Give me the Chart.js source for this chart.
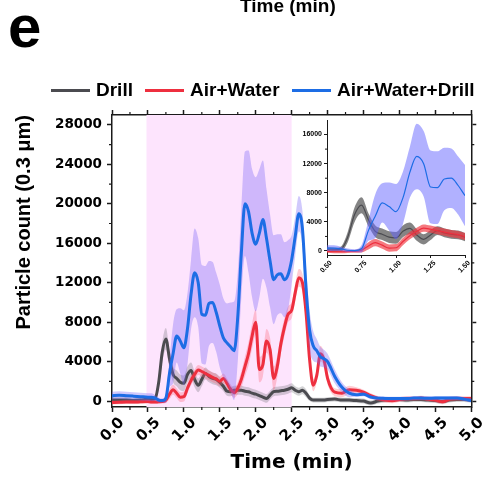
<!DOCTYPE html>
<html>
<head>
<meta charset="utf-8">
<title>Particle count</title>
<script src="https://cdn.jsdelivr.net/npm/chart.js@4.4.1/dist/chart.umd.min.js"></script>
<style>
  html, body { margin: 0; padding: 0; background: #fff; }
  #wrap { position: relative; width: 486px; height: 480px; overflow: hidden;
          font-family: "Liberation Sans", Arial, sans-serif; font-weight: bold; color: #000; }
  #main { position: absolute; left: 0; top: 0; }
  #inset { position: absolute; left: 280px; top: 112px; }
  .panel { position: absolute; left: 8px; top: -3px; font-size: 60px; line-height: 60px; }
  .cut { position: absolute; left: 240px; top: -4px; font-size: 19px; line-height: 19px; }
  .key { position: absolute; top: 80px; height: 20px; display: flex; align-items: center;
         font-size: 19px; line-height: 20px; white-space: nowrap; }
  .key i { display: inline-block; width: 39px; height: 3px; margin-right: 6px; }
</style>
</head>
<body>
<div id="wrap">
  <canvas id="main" width="486" height="480"></canvas>
  <canvas id="inset" width="192" height="178"></canvas>
  <div class="cut">Time (min)</div>
  <div class="panel">e</div>
  <div class="key" style="left:51px"><i style="background:#4b4b50"></i>Drill</div>
  <div class="key" style="left:145px"><i style="background:#ee2f3f"></i>Air+Water</div>
  <div class="key" style="left:292px"><i style="background:#1d6de5"></i>Air+Water+Drill</div>
</div>
<script>
// sampling times (min)
const times = [
  0, 0.1, 0.2, 0.3, 0.4, 0.5,
  0.55, 0.6, 0.65, 0.7, 0.75, 0.8, 0.85, 0.9, 0.95, 1.0,
  1.05, 1.1, 1.15, 1.2, 1.25, 1.3, 1.35, 1.4, 1.45, 1.5,
  1.55, 1.6, 1.65, 1.7, 1.75, 1.8, 1.85, 1.9, 1.95, 2.0,
  2.05, 2.1, 2.15, 2.2, 2.25, 2.3, 2.35, 2.4, 2.45, 2.5,
  2.55, 2.6, 2.65, 2.7, 2.75, 2.8, 2.85, 2.9, 2.95, 3.0,
  3.1, 3.2, 3.3, 3.4, 3.5, 3.6, 3.7, 3.8, 3.9, 4.0,
  4.1, 4.2, 4.3, 4.4, 4.5, 4.6, 4.7, 4.8, 4.9, 5.0
];

// mean particle counts and their spread
const drill = [
  100, 100, 100, 50, 100, 200,
  150, 250, 1900, 5000, 6300, 4300, 2700, 2300, 1900, 1800,
  2700, 3100, 2200, 1600, 2200, 2800, 2500, 2300, 2200, 1900,
  1500, 1000, 950, 1100, 1100, 1100, 1000, 950, 800, 700,
  550, 400, 270, 600, 950, 1000, 1050, 1100, 1200, 1350,
  1100, 950, 1100, 800, 300, 100, 100, 100, 100, 150,
  200, 100, 100, 50, 0, -200, 0, 100, 150, 150,
  100, 150, 150, 100, 50, -50, 100, 150, 150, 100
];
const drillSd = [
  300, 300, 300, 300, 300, 300,
  300, 350, 700, 1000, 1100, 900, 800, 800, 800, 800,
  800, 800, 800, 700, 700, 600, 600, 600, 600, 550,
  500, 450, 450, 450, 450, 450, 450, 450, 450, 450,
  450, 450, 450, 450, 450, 450, 450, 450, 450, 450,
  400, 400, 400, 400, 300, 250, 250, 250, 250, 250,
  250, 250, 250, 250, 250, 250, 250, 250, 250, 250,
  250, 250, 250, 250, 250, 250, 250, 250, 250, 250
];
const airWater = [
  -150, -130, -100, -100, -70, -50,
  -100, -100, -70, -50, 100, 700, 1150, 800, 400, 450,
  1300, 2100, 2700, 3150, 3000, 2800, 2600, 2400, 2250, 2000,
  2300, 1800, 1200, 850, 1300, 2200, 3500, 4800, 6600, 8000,
  3200, 3700, 6100, 5200, 2300, 3500, 5800, 7500, 8800, 9200,
  11000, 12500, 12000, 9000, 4200, 1600, 2600, 4800, 4200, 2300,
  900, 800, 1150, 1100, 900, 550, 270, 100, 30, 150,
  270, 250, 300, 200, 100, -70, 200, 270, 250, 250
];
const airWaterSd = [
  200, 200, 200, 200, 200, 200,
  200, 200, 200, 200, 300, 500, 500, 500, 500, 500,
  500, 500, 500, 500, 500, 500, 500, 500, 500, 500,
  500, 500, 500, 500, 600, 800, 1000, 1200, 1300, 1300,
  1300, 1200, 1200, 1200, 1200, 1100, 1000, 900, 800, 800,
  900, 900, 900, 900, 700, 600, 700, 800, 700, 600,
  400, 400, 400, 300, 250, 250, 250, 250, 250, 250,
  250, 250, 250, 250, 250, 250, 250, 250, 250, 250
];
const airWaterDrill = [
  550, 600, 550, 500, 450, 400,
  400, 300, 100, 50, 300, 2800, 4800, 6600, 6100, 5400,
  7300, 10800, 13000, 12000, 8800, 8700, 9900, 10000, 9000, 7600,
  6400, 5900, 5500, 5100, 8500, 15000, 20000, 19200, 17000, 15900,
  17000, 18400, 16500, 14200, 12300, 12800, 12900, 12300, 12800, 14300,
  16700, 19000, 17500, 11500, 7200, 5600, 5100, 4500, 4300, 4000,
  2500, 1400, 800, 650, 700, 400, 300, 270, 250, 250,
  250, 300, 300, 280, 300, 300, 300, 300, 200, 50
];
const airWaterDrillSd = [
  400, 400, 400, 400, 400, 400,
  400, 300, 250, 200, 500, 1400, 3000, 2700, 3300, 3800,
  3600, 3500, 4500, 4500, 5000, 5000, 4300, 4100, 4000, 4200,
  4000, 4000, 4500, 5000, 4500, 4500, 5300, 6200, 6500, 6800,
  6500, 6000, 5000, 4700, 4500, 4100, 4000, 3800, 3500, 2500,
  2000, 1800, 1800, 2200, 2000, 1500, 1200, 1000, 900, 800,
  700, 500, 400, 200, 200, 200, 200, 200, 200, 200,
  200, 200, 200, 200, 200, 200, 200, 200, 200, 200
];

const yTicks = [0, 4000, 8000, 12000, 16000, 20000, 24000, 28000];
const insetYTicks = [0, 4000, 8000, 12000, 16000];

// time window highlighted in pink
const shadeFrom = 0.48;
const shadeTo = 2.5;

const axisColor = '#1a1a1a';
const lineColors = ['#4b4b50', '#ee2f3f', '#1d6de5'];

function series() {
  return [
    {label: 'Drill', mean: drill, sd: drillSd},
    {label: 'Air+Water', mean: airWater, sd: airWaterSd},
    {label: 'Air+Water+Drill', mean: airWaterDrill, sd: airWaterDrillSd}
  ];
}

function points(mean, sd, sign) {
  return times.map((t, i) => ({x: t, y: mean[i] + sign * sd[i]}));
}

// each series: upper bound, lower bound filled up to it, then the mean line
function buildDatasets(lineWidth, bandColors) {
  const sets = [];
  series().forEach((s, k) => {
    const order = 6 - 2 * k;
    sets.push({label: s.label + ' +SD', data: points(s.mean, s.sd, 1), borderWidth: 0,
               borderColor: 'transparent', fill: false, order: order});
    sets.push({label: s.label + ' -SD', data: points(s.mean, s.sd, -1), borderWidth: 0,
               borderColor: 'transparent', backgroundColor: bandColors[k], fill: '-1', order: order});
    sets.push({label: s.label, data: points(s.mean, s.sd, 0), borderColor: lineColors[k],
               borderWidth: lineWidth, fill: false, order: order - 1});
  });
  return sets;
}

const shade = {
  id: 'shade',
  beforeDatasetsDraw(chart) {
    const {ctx, chartArea: a, scales: {x}} = chart;
    const x0 = x.getPixelForValue(shadeFrom);
    const x1 = x.getPixelForValue(shadeTo);
    ctx.save();
    ctx.fillStyle = '#fde4fd';
    ctx.fillRect(x0, a.top, x1 - x0, a.bottom - a.top);
    ctx.restore();
  }
};

function minorTicks(marks, length, width) {
  return {
    id: 'minorTicks',
    afterDraw(chart) {
      const {ctx} = chart;
      ctx.save();
      ctx.strokeStyle = axisColor;
      ctx.lineWidth = width;
      ctx.beginPath();
      marks.forEach(({scale, values}) => {
        const s = chart.scales[scale];
        values.forEach(v => {
          const p = s.getPixelForValue(v);
          if (s.position === 'bottom') { ctx.moveTo(p, s.top); ctx.lineTo(p, s.top + length); }
          else if (s.position === 'top') { ctx.moveTo(p, s.bottom); ctx.lineTo(p, s.bottom - length); }
          else if (s.position === 'left') { ctx.moveTo(s.right, p); ctx.lineTo(s.right - length, p); }
          else { ctx.moveTo(s.left, p); ctx.lineTo(s.left + length, p); }
        });
      });
      ctx.stroke();
      ctx.restore();
    }
  };
}

function range(from, to, step) {
  const out = [];
  for (let v = from; v <= to + 1e-9; v += step) out.push(v);
  return out;
}

const plain = v => String(v);
const tickFont = {family: 'DejaVu Sans', weight: 'bold', size: 13.5};
const mainGrid = {drawOnChartArea: false, tickLength: 5, tickWidth: 1.5, tickColor: axisColor};
const mainBorder = {color: axisColor, width: 1.5};
const setYTicks = s => { s.ticks = yTicks.map(v => ({value: v})); };

new Chart(document.getElementById('main'), {
  type: 'line',
  data: {
    datasets: buildDatasets(3, ['rgba(110,110,115,0.3)', 'rgba(255,90,110,0.3)', 'rgba(120,100,245,0.35)'])
  },
  options: {
    responsive: false,
    animation: false,
    events: [],
    layout: {padding: 0},
    elements: {
      line: {cubicInterpolationMode: 'monotone'},
      point: {radius: 0}
    },
    plugins: {legend: {display: false}, tooltip: {enabled: false}},
    scales: {
      x: {
        type: 'linear', position: 'bottom', min: 0, max: 5,
        ticks: {stepSize: 0.5, autoSkip: false, minRotation: 45, maxRotation: 45, labelOffset: 10,
                padding: 2, color: '#000', font: {family: 'DejaVu Sans', weight: 'bold', size: 15},
                callback: v => v.toFixed(1)},
        grid: mainGrid,
        border: mainBorder,
        title: {display: true, text: 'Time (min)', color: '#000',
                font: {family: 'DejaVu Sans', weight: 'bold', size: 20}, padding: {top: 0, bottom: 5}},
        afterFit: s => { s.height = 73; }
      },
      x2: {
        type: 'linear', position: 'top', min: 0, max: 5,
        ticks: {stepSize: 0.5, display: false},
        grid: mainGrid,
        border: mainBorder,
        afterFit: s => { s.height = 115; }
      },
      y: {
        type: 'linear', position: 'left', min: -600, max: 29000,
        afterBuildTicks: setYTicks,
        ticks: {color: '#000', font: tickFont, padding: 5, callback: plain},
        grid: mainGrid,
        border: mainBorder,
        title: {display: true, text: 'Particle count (0.3 μm)', color: '#000', align: 'end',
                font: {family: 'Liberation Sans', weight: 'bold', size: 20}, padding: {top: 12, bottom: 0}},
        afterFit: s => { s.width = 112; }
      },
      y2: {
        type: 'linear', position: 'right', min: -600, max: 29000,
        afterBuildTicks: setYTicks,
        ticks: {display: false},
        grid: mainGrid,
        border: mainBorder,
        afterFit: s => { s.width = 14; }
      }
    }
  },
  plugins: [shade, minorTicks([
    {scale: 'x', values: range(0.25, 4.75, 0.5)},
    {scale: 'x2', values: range(0.25, 4.75, 0.5)},
    {scale: 'y', values: range(2000, 26000, 4000)},
    {scale: 'y2', values: range(2000, 26000, 4000)}
  ], 3, 1.2)]
});

// zoom on the first minute of drilling
const insetFont = {family: 'Liberation Sans', weight: 'bold', size: 7};
const insetGrid = {drawOnChartArea: false, tickLength: 3, tickWidth: 1, tickColor: axisColor};
const insetBorder = {color: axisColor, width: 1};

new Chart(document.getElementById('inset'), {
  type: 'line',
  data: {
    datasets: buildDatasets(1.2, ['rgba(50,50,50,0.6)', 'rgba(240,50,60,0.65)', 'rgba(100,100,255,0.5)'])
  },
  options: {
    responsive: false,
    animation: false,
    events: [],
    layout: {padding: {top: 8, right: 5, left: 0, bottom: 0}},
    elements: {
      line: {cubicInterpolationMode: 'monotone'},
      point: {radius: 0}
    },
    plugins: {legend: {display: false}, tooltip: {enabled: false}},
    scales: {
      x: {
        type: 'linear', position: 'bottom', min: 0.5, max: 1.5,
        ticks: {stepSize: 0.25, autoSkip: false, minRotation: 45, maxRotation: 45, labelOffset: 4,
                padding: 1, color: '#000', font: insetFont, callback: v => v.toFixed(2)},
        grid: insetGrid,
        border: insetBorder,
        afterFit: s => { s.height = 35; }
      },
      y: {
        type: 'linear', position: 'left', min: -550, max: 18000,
        afterBuildTicks: s => { s.ticks = insetYTicks.map(v => ({value: v})); },
        ticks: {color: '#000', font: insetFont, padding: 2, callback: plain},
        grid: insetGrid,
        border: insetBorder,
        afterFit: s => { s.width = 47; }
      }
    }
  },
  plugins: [minorTicks([{scale: 'y', values: range(2000, 14000, 4000)}], 2, 1)]
});
</script>
</body>
</html>
